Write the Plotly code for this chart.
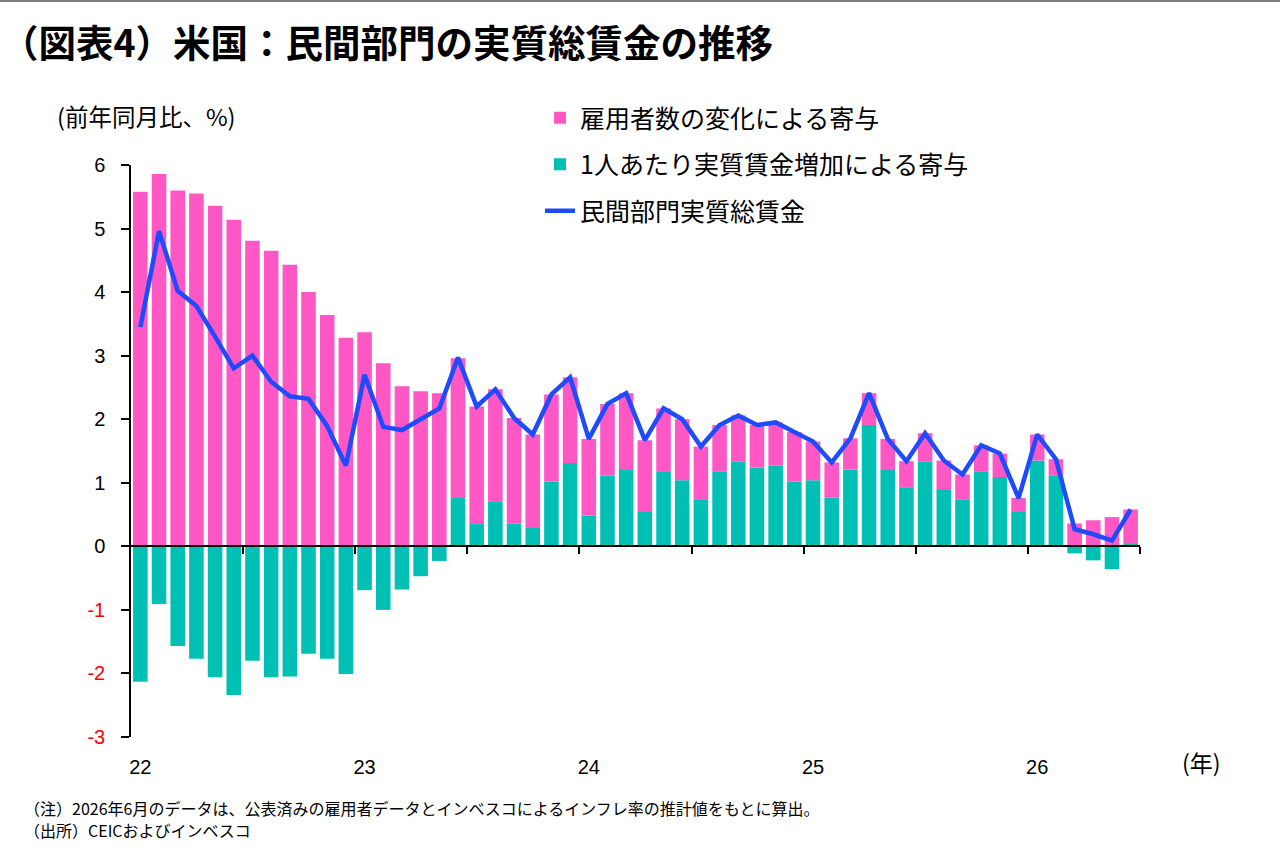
import plotly.graph_objects as go

# ---- data (YoY %, monthly Jan-2022 .. Jun-2026) ----
months = [f"{y}-{m:02d}" for y in range(2022, 2027) for m in range(1, 13)][:54]

employment = [  # 雇用者数の変化による寄与
    5.58, 5.86, 5.60, 5.55, 5.36, 5.14, 4.81, 4.65, 4.43, 4.00, 3.64, 3.28,
    3.37, 2.88, 2.52, 2.44, 2.41, 2.20, 1.85, 1.76, 1.66, 1.47, 1.37, 1.35,
    1.21, 1.13, 1.21, 1.13, 1.00, 0.96, 0.84, 0.73, 0.73, 0.67, 0.68, 0.78,
    0.61, 0.55, 0.49, 0.50, 0.49, 0.41, 0.45, 0.45, 0.39, 0.41, 0.37, 0.22,
    0.41, 0.26, 0.36, 0.41, 0.46, 0.53,
]
wage = [  # 1人あたり実質賃金増加による寄与
    -2.13, -0.91, -1.57, -1.77, -2.06, -2.34, -1.80, -2.06, -2.05, -1.69, -1.77, -2.01,
    -0.69, -1.00, -0.68, -0.47, -0.23, 0.76, 0.35, 0.71, 0.36, 0.29, 1.02, 1.31,
    0.48, 1.11, 1.20, 0.54, 1.17, 1.04, 0.73, 1.18, 1.33, 1.24, 1.27, 1.02,
    1.04, 0.77, 1.21, 1.91, 1.20, 0.93, 1.33, 0.90, 0.74, 1.18, 1.09, 0.54,
    1.35, 1.11, -0.11, -0.22, -0.36, 0.05,
]
total = [  # 民間部門実質総賃金
    3.45, 4.96, 4.02, 3.78, 3.30, 2.80, 3.00, 2.59, 2.36, 2.32, 1.89, 1.27,
    2.70, 1.88, 1.83, 2.00, 2.17, 2.97, 2.20, 2.47, 2.02, 1.76, 2.39, 2.66,
    1.69, 2.24, 2.41, 1.67, 2.17, 2.00, 1.57, 1.91, 2.06, 1.91, 1.95, 1.80,
    1.65, 1.32, 1.70, 2.41, 1.69, 1.34, 1.78, 1.35, 1.13, 1.59, 1.46, 0.76,
    1.76, 1.37, 0.27, 0.19, 0.09, 0.58,
]
year_labels = ["22", "23", "24", "25", "26"]
y_ticks = [-3, -2, -1, 0, 1, 2, 3, 4, 5, 6]

PINK = "#FF57C4"
TEAL = "#00C0B4"
BLUE = "#1F4BFF"
JP = "Noto Sans CJK JP"
NUM = "Liberation Sans, Arial"

x = list(range(len(months)))
year_pos = [months.index(f"20{lab}-01") for lab in year_labels]
boundaries = [i - 0.5 for i in range(6, len(months) + 1, 6)]
xr = [-0.5, len(months) - 0.5]

fig = go.Figure()
fig.add_trace(go.Bar(x=x, y=wage, marker_color=TEAL, marker_line_width=0,
                     name="1人あたり実質賃金増加による寄与", legendrank=2, legendgroup="b"))
fig.add_trace(go.Bar(x=x, y=employment, marker_color=PINK, marker_line_width=0,
                     name="雇用者数の変化による寄与", legendrank=1, legendgroup="a"))
fig.add_trace(go.Scatter(x=x, y=total, mode="lines", line=dict(color=BLUE, width=4.5),
                         xaxis="x2", yaxis="y",
                         name="民間部門実質総賃金", legendrank=3, legendgroup="c"))

ticktext = [f"<span style='color:#FF0000'>{v}</span>" if v < 0 else str(v) for v in y_ticks]

L, R, T, B = 131, 140, 165, 123
W, H = 1280, 860
pw, ph = W - L - R, H - T - B

def px(xp):
    return (xp - L) / pw

def py(yp):
    return (H - B - yp) / ph

fig.update_layout(
    width=W, height=H,
    margin=dict(l=L, r=R, t=T, b=B, autoexpand=False),
    paper_bgcolor="white", plot_bgcolor="white",
    barmode="relative", bargap=0.22,
    font=dict(family=JP, color="black"),
    title=dict(text="<b>（図表4）米国：民間部門の実質総賃金の推移</b>",
               x=1 / W, xref="container", xanchor="left",
               y=1 - 44 / H, yref="container", yanchor="middle",
               font=dict(family=JP, size=37.5, color="black")),
    xaxis=dict(range=xr, anchor="free", position=(0 - y_ticks[0]) / (y_ticks[-1] - y_ticks[0]),
               tickvals=boundaries, showticklabels=False, ticks="outside", ticklen=7,
               tickcolor="black", tickwidth=1.5, showline=True, linecolor="black", linewidth=1.5,
               showgrid=False, zeroline=False),
    xaxis2=dict(range=xr, overlaying="x", anchor="y", side="bottom",
                tickvals=year_pos, ticktext=year_labels, ticks="", showline=False,
                showgrid=False, zeroline=False, ticklabelstandoff=16,
                tickfont=dict(family=NUM, size=20, color="black")),
    yaxis=dict(range=[y_ticks[0], y_ticks[-1]], tickvals=y_ticks, ticktext=ticktext,
               ticks="outside", ticklen=8, tickcolor="black", tickwidth=1.5,
               showline=True, linecolor="black", linewidth=1.5, showgrid=False, zeroline=False,
               ticklabelstandoff=12, tickfont=dict(family=NUM, size=20, color="black")),
    legend=dict(x=px(540), y=py(95), xanchor="left", yanchor="top",
                traceorder="grouped", tracegroupgap=11, bgcolor="rgba(0,0,0,0)",
                font=dict(family=JP, size=25, color="black")),
    showlegend=True,
)

fig.add_annotation(text="(前年同月比、%)", xref="paper", yref="paper", x=px(55), y=py(116),
                   xanchor="left", yanchor="middle", showarrow=False,
                   font=dict(family=JP, size=23.5, color="black"))
fig.add_annotation(text="(年)", xref="paper", yref="paper", x=px(1201), y=py(762),
                   xanchor="center", yanchor="middle", showarrow=False,
                   font=dict(family=JP, size=23, color="black"))
fig.add_annotation(text="（注）2026年6月のデータは、公表済みの雇用者データとインベスコによるインフレ率の推計値をもとに算出。",
                   xref="paper", yref="paper", x=px(22), y=py(808), xanchor="left", yanchor="middle",
                   showarrow=False, font=dict(family=JP, size=16, color="black"))
fig.add_annotation(text="（出所）CEICおよびインベスコ",
                   xref="paper", yref="paper", x=px(22), y=py(830), xanchor="left", yanchor="middle",
                   showarrow=False, font=dict(family=JP, size=16, color="black"))
fig.add_shape(type="line", xref="paper", yref="paper", x0=px(0), x1=px(W), y0=py(1), y1=py(1),
              line=dict(color="#808080", width=2))

fig.write_html("out.html")
